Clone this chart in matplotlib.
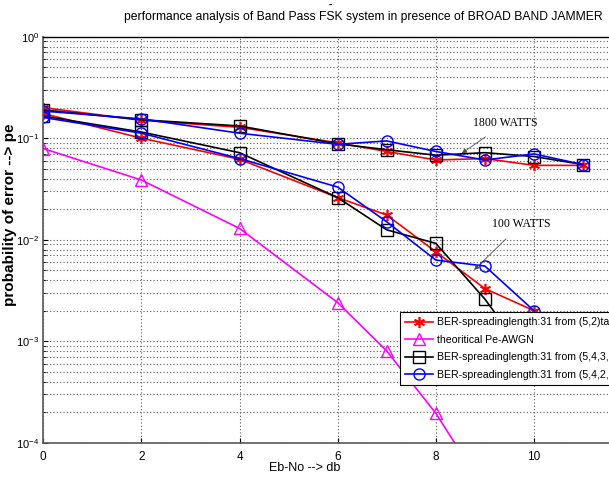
import numpy as np
import matplotlib
matplotlib.use('Agg')
import matplotlib.pyplot as plt

plt.rcParams['font.family'] = ['Liberation Sans', 'DejaVu Sans']

# Eb/No points (dB)
ebno = [0, 2, 4, 6, 7, 8, 9, 10, 11]
ebno_low = [0, 2, 4, 6, 7, 8, 9, 10]

# 1800 W jammer curves
red_1800 = [0.200, 0.150, 0.128, 0.090, 0.074, 0.061, 0.063, 0.054, 0.054]
blk_1800 = [0.190, 0.152, 0.132, 0.088, 0.077, 0.068, 0.072, 0.066, 0.055]
blu_1800 = [0.185, 0.155, 0.112, 0.087, 0.094, 0.074, 0.061, 0.070, 0.055]

# 100 W jammer curves
red_100 = [0.175, 0.100, 0.062, 0.026, 0.0175, 0.0076, 0.0033, 0.0020]
blk_100 = [0.165, 0.115, 0.072, 0.026, 0.0125, 0.0092, 0.0026, 0.00057]
blu_100 = [0.160, 0.112, 0.063, 0.033, 0.0150, 0.0063, 0.0055, 0.0020]

# theoretical AWGN
theo = [0.079, 0.0387, 0.0129, 0.0024, 0.00080, 0.000195, 3.4e-5, 3.9e-6, 2.6e-7]

fig = plt.figure(figsize=(6.09, 4.8), dpi=100)
ax = fig.add_axes([43.3/609, 1-442.7/480, 1-43.3/609, (442.7-36.7)/480])

lw = 1.2
ms = 8
star = (6, 2, 0)
l1, = ax.plot(ebno_low, red_100, 'r-', marker=star, lw=lw, ms=ms, mew=1.2)
ax.plot(ebno, red_1800, 'r-', marker=star, lw=lw, ms=ms, mew=1.2)
l2, = ax.plot(ebno, theo, '-^', color='#ff00ff', lw=lw, ms=ms, mfc='none')
l3, = ax.plot(ebno_low, blk_100, 'k-s', lw=lw, ms=ms, mfc='none')
ax.plot(ebno, blk_1800, 'k-s', lw=lw, ms=ms, mfc='none')
l4, = ax.plot(ebno_low, blu_100, 'b-o', lw=lw, ms=ms, mfc='none')
ax.plot(ebno, blu_1800, 'b-o', lw=lw, ms=ms, mfc='none')

ax.set_yscale('log')
ax.set_ylim(1e-4, 1)
ax.set_xlim(0, 11.53)
ax.set_xticks([0, 2, 4, 6, 8, 10])
ax.tick_params(axis='both', which='both', direction='in', labelsize=8.5)
ax.tick_params(axis='y', labelsize=8, pad=3)
ax.tick_params(axis='x', pad=6)
ax.grid(True, which='major', color='0.35', linestyle=(0, (1, 2)), lw=0.8)
ax.grid(True, which='minor', axis='y', color='0.35', linestyle=(0, (1, 2)), lw=0.8)
ax.spines['right'].set_visible(False)
for s in ['left', 'bottom']:
    ax.spines[s].set_color('0.35')
    ax.spines[s].set_linewidth(1.2)
ax.spines['top'].set_linewidth(1.0)

ax.annotate('1800 WATTS', xy=(8.53, 0.071), xytext=(8.75, 0.140),
            fontsize=8.5, family='Liberation Serif', va='center', ha='left',
            arrowprops=dict(arrowstyle='-|>', color='0.3', lw=0.6, mutation_scale=7,
                            shrinkA=6, shrinkB=0))
ax.annotate('100 WATTS', xy=(8.78, 0.00503), xytext=(9.14, 0.0142),
            fontsize=8.5, family='Liberation Serif', va='center', ha='left',
            arrowprops=dict(arrowstyle='-|>', color='0.3', lw=0.6, mutation_scale=7,
                            shrinkA=6, shrinkB=0))

leg = ax.legend([l1, l2, l3, l4],
                ['BER-spreadinglength:31 from (5,2)taps',
                 'theoritical Pe-AWGN',
                 'BER-spreadinglength:31 from (5,4,3,2)taps',
                 'BER-spreadinglength:31 from (5,4,2,1)taps'],
                loc='upper left', bbox_to_anchor=(400/609, 1-312/480),
                bbox_transform=fig.transFigure, fontsize=7.6, fancybox=False,
                framealpha=1, edgecolor='black', handlelength=2.6,
                borderaxespad=0, labelspacing=0.72, handletextpad=0.4,
                borderpad=0.5)
leg.get_frame().set_linewidth(0.8)

fig.text(363/609, 1-17/480, 'performance analysis of Band Pass FSK system in presence of BROAD BAND JAMMER',
         ha='center', va='center', fontsize=8.7)
fig.text(330/609, 1-5/480, '-', ha='center', va='center', fontsize=7, fontweight='bold')
fig.text(10/609, 1-215/480, 'probability of error --> pe', rotation=90,
         ha='center', va='center', fontsize=11, fontweight='bold')
fig.text(305/609, 1-468/480, 'Eb-No --> db', ha='center', va='center', fontsize=9)

fig.savefig('out.png', dpi=100)
